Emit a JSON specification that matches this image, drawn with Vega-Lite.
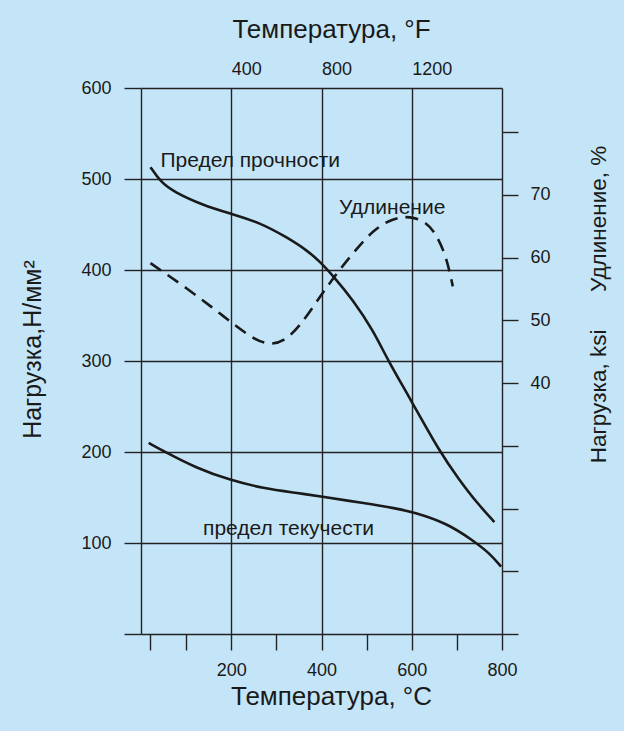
{
  "$schema": "https://vega.github.io/schema/vega-lite/v6.json",
  "width": 361,
  "height": 546,
  "autosize": {"type": "none"},
  "padding": {"left": 141, "top": 88, "right": 122, "bottom": 97},
  "background": "#C4E5F8",
  "config": {
    "font": "Liberation Sans",
    "view": {"stroke": null},
    "axis": {
      "labelFont": "Liberation Sans",
      "titleFont": "Liberation Sans",
      "labelColor": "#1a1a1a",
      "titleColor": "#1a1a1a",
      "titleFontWeight": "normal",
      "labelFlush": false,
      "labelOverlap": false,
      "tickColor": "#222222",
      "tickWidth": 1.4,
      "gridColor": "#222222",
      "gridWidth": 1.4,
      "gridOpacity": 1
    }
  },
  "datasets": {
    "strength": [
      {"curve": "tensile", "T": 21, "sigma": 513},
      {"curve": "tensile", "T": 43, "sigma": 497},
      {"curve": "tensile", "T": 72, "sigma": 486},
      {"curve": "tensile", "T": 138, "sigma": 471},
      {"curve": "tensile", "T": 198, "sigma": 462},
      {"curve": "tensile", "T": 264, "sigma": 452},
      {"curve": "tensile", "T": 323, "sigma": 436},
      {"curve": "tensile", "T": 367, "sigma": 422},
      {"curve": "tensile", "T": 397, "sigma": 409},
      {"curve": "tensile", "T": 425, "sigma": 394},
      {"curve": "tensile", "T": 470, "sigma": 367},
      {"curve": "tensile", "T": 514, "sigma": 334},
      {"curve": "tensile", "T": 548, "sigma": 300},
      {"curve": "tensile", "T": 596, "sigma": 259},
      {"curve": "tensile", "T": 662, "sigma": 200},
      {"curve": "tensile", "T": 706, "sigma": 169},
      {"curve": "tensile", "T": 743, "sigma": 145},
      {"curve": "tensile", "T": 783, "sigma": 123},
      {"curve": "yield", "T": 17, "sigma": 210},
      {"curve": "yield", "T": 50, "sigma": 201},
      {"curve": "yield", "T": 124, "sigma": 182},
      {"curve": "yield", "T": 198, "sigma": 169},
      {"curve": "yield", "T": 271, "sigma": 160},
      {"curve": "yield", "T": 345, "sigma": 155},
      {"curve": "yield", "T": 400, "sigma": 151},
      {"curve": "yield", "T": 492, "sigma": 144},
      {"curve": "yield", "T": 566, "sigma": 138},
      {"curve": "yield", "T": 603, "sigma": 134},
      {"curve": "yield", "T": 677, "sigma": 122},
      {"curve": "yield", "T": 735, "sigma": 103},
      {"curve": "yield", "T": 772, "sigma": 89},
      {"curve": "yield", "T": 798, "sigma": 74}
    ],
    "elong": [
      {"T": 21, "E": 59.1},
      {"T": 102, "E": 55.1},
      {"T": 175, "E": 51.1},
      {"T": 249, "E": 46.9},
      {"T": 286, "E": 46.1},
      {"T": 316, "E": 46.6},
      {"T": 352, "E": 49.0},
      {"T": 397, "E": 53.8},
      {"T": 434, "E": 57.5},
      {"T": 470, "E": 60.7},
      {"T": 514, "E": 64.4},
      {"T": 559, "E": 66.3},
      {"T": 596, "E": 66.6},
      {"T": 632, "E": 65.7},
      {"T": 655, "E": 63.6},
      {"T": 677, "E": 60.1},
      {"T": 691, "E": 55.4}
    ],
    "labels": [
      {"T": 43, "sigma": 513.5, "label": "Предел прочности"},
      {"T": 439, "sigma": 461.5, "label": "Удлинение"},
      {"T": 137.5, "sigma": 108.8, "label": "предел текучести"}
    ]
  },
  "layer": [
    {
      "data": {"name": "strength"},
      "mark": {"type": "line", "interpolate": "basis", "color": "#1a1a1a", "strokeWidth": 2.6},
      "encoding": {
        "x": {
          "field": "T", "type": "quantitative",
          "scale": {"domain": [0, 800], "nice": false},
          "axis": {
            "orient": "bottom",
            "values": [20, 100, 200, 300, 400, 500, 600, 700, 800],
            "grid": false,
            "domain": false,
            "tickSize": 16,
            "labelExpr": "datum.value % 200 == 0 ? datum.label : ''",
            "labelFontSize": 18,
            "labelPadding": 11,
            "title": "Температура, °C",
            "titleFontSize": 26,
            "titlePadding": 4,
            "titleX": 190,
            "titleAlign": "center"
          }
        },
        "y": {
          "field": "sigma", "type": "quantitative",
          "scale": {"domain": [0, 600], "nice": false},
          "axis": {
            "orient": "left",
            "values": [0, 100, 200, 300, 400, 500, 600],
            "grid": true,
            "domain": false,
            "tickSize": 17,
            "labelExpr": "datum.value == 0 ? '' : datum.label",
            "labelFontSize": 18,
            "labelPadding": 13,
            "title": "Нагрузка,Н/мм²",
            "titleFontSize": 25,
            "titleAngle": 270,
            "titleX": -109,
            "titleY": 261,
            "titleAlign": "center",
            "titleBaseline": "middle"
          }
        },
        "detail": {"field": "curve"}
      }
    },
    {
      "data": {"name": "labels"},
      "mark": {"type": "text", "align": "left", "baseline": "alphabetic", "fontSize": 21, "color": "#1a1a1a"},
      "encoding": {
        "x": {"field": "T", "type": "quantitative", "scale": {"domain": [0, 800], "nice": false}, "axis": null},
        "y": {"field": "sigma", "type": "quantitative", "scale": {"domain": [0, 600], "nice": false}, "axis": null},
        "text": {"field": "label"}
      }
    },
    {
      "data": {"name": "elong"},
      "mark": {"type": "line", "interpolate": "basis", "color": "#1a1a1a", "strokeWidth": 2.6, "strokeDash": [13, 8]},
      "encoding": {
        "x": {
          "field": "T", "type": "quantitative",
          "scale": {"domain": [0, 800], "nice": false},
          "axis": {
            "orient": "top",
            "values": [0, 200, 400, 600, 800],
            "grid": true,
            "ticks": false,
            "domain": false,
            "labelExpr": "(datum.value > 0 && datum.value < 800) ? '' + (datum.value * 2) : ''",
            "labelAlign": "left",
            "labelFontSize": 18,
            "labelPadding": 10,
            "title": "Температура, °F",
            "titleFontSize": 26,
            "titlePadding": 18,
            "titleX": 190,
            "titleAlign": "center"
          }
        },
        "y": {
          "field": "E", "type": "quantitative",
          "scale": {"domain": [0, 87.02], "nice": false},
          "axis": {
            "orient": "right",
            "values": [0, 10, 20, 30, 40, 50, 60, 70, 80],
            "grid": false,
            "domain": false,
            "tickSize": 16,
            "labelExpr": "(datum.value >= 40 && datum.value <= 70) ? datum.label : ''",
            "labelFontSize": 18,
            "labelPadding": 12,
            "title": "Нагрузка, ksi\u00a0\u00a0\u00a0\u00a0\u00a0\u00a0Удлинение, %",
            "titleFontSize": 22.5,
            "titleAngle": 270,
            "titleX": 96,
            "titleY": 216,
            "titleAlign": "center",
            "titleBaseline": "middle"
          }
        }
      }
    }
  ],
  "resolve": {
    "scale": {"y": "independent"},
    "axis": {"x": "independent", "y": "independent"}
  }
}
